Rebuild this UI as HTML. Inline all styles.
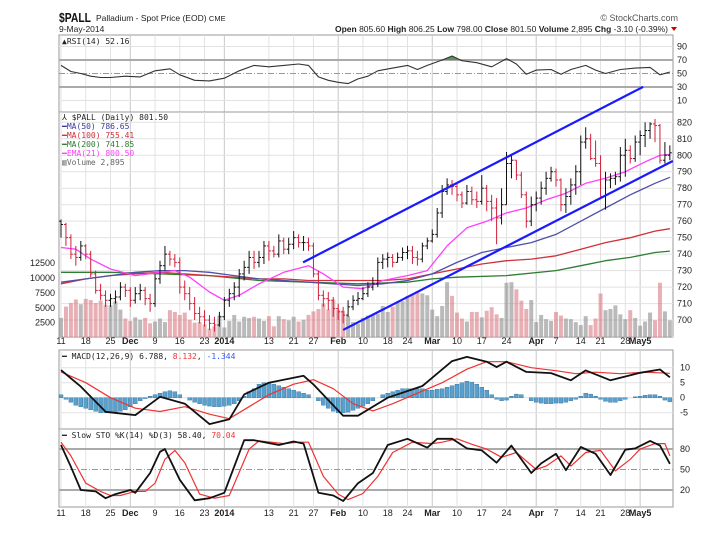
<!DOCTYPE html>
<html><head><meta charset="utf-8">
<style>
html,body{margin:0;padding:0;background:#fff;}
svg{display:block;font-family:"Liberation Sans",sans-serif;}
.ax{font-size:9px;fill:#222;}
.lg{font-family:"DejaVu Sans Mono","Liberation Mono",monospace;font-size:8px;}
</style></head>
<body>
<svg id="c" width="703" height="536" viewBox="0 0 703 536" xmlns="http://www.w3.org/2000/svg">
<rect x="0" y="0" width="703" height="536" fill="#fff"/>
<text x="59" y="22" font-size="13" font-weight="bold" fill="#111" textLength="32" lengthAdjust="spacingAndGlyphs">$PALL</text>
<text x="96" y="21" font-size="8.5" fill="#222">Palladium - Spot Price (EOD) <tspan font-size="7.5">CME</tspan></text>
<text x="59" y="32" font-size="8.5" fill="#222">9-May-2014</text>
<text x="678" y="21" font-size="9" fill="#555" text-anchor="end">© StockCharts.com</text>
<text x="668" y="32" font-size="8.5" fill="#222" text-anchor="end"><tspan font-weight="bold">Open</tspan> 805.60 <tspan font-weight="bold">High</tspan> 806.25 <tspan font-weight="bold">Low</tspan> 798.00 <tspan font-weight="bold">Close</tspan> 801.50 <tspan font-weight="bold">Volume</tspan> 2,895 <tspan font-weight="bold">Chg</tspan> -3.10 (-0.39%)</text>
<polygon points="671,27 677,27 674,31" fill="#c00"/>
<g id="g"></g>
</svg>
<script>
// ---- data ----
const closes=[758,750,740,738,745,740,728,718,715,712,713,714,720,718,712,716,718,713,710,725,733,740,737,735,720,716,710,704,702,700,698,697,702,712,716,720,728,732,738,735,738,745,742,740,748,743,746,750,747,747,745,728,715,713,712,707,705,703,708,712,713,716,720,722,735,737,738,735,738,741,742,738,737,745,748,752,765,778,782,781,776,771,778,773,772,780,772,768,762,770,795,797,788,776,760,770,774,780,786,790,785,770,775,782,790,808,810,798,795,775,785,786,787,800,803,798,808,812,815,819,818,797,800,801.5];
const highs=[761,759,752,745,748,746,742,730,722,718,716,718,723,722,720,720,722,720,716,728,736,745,742,740,738,724,720,714,708,706,703,702,705,714,719,723,731,736,742,742,742,748,748,745,752,750,750,754,752,751,750,747,730,718,717,714,710,708,712,715,717,720,723,726,738,740,741,740,741,744,745,745,742,747,750,755,768,782,786,785,783,778,782,781,778,788,782,776,774,780,802,800,797,790,778,775,778,784,790,793,792,786,780,786,794,812,817,813,809,800,790,789,790,805,810,806,812,815,820,820,822,819,808,806];
const lows=[750,745,737,733,736,737,726,716,712,708,708,710,712,714,708,710,712,709,705,708,722,730,733,732,716,712,706,700,698,696,694,693,696,700,708,712,714,724,728,731,732,734,736,738,738,740,740,743,744,742,742,726,712,708,706,702,700,698,702,706,709,712,714,718,720,731,732,732,735,736,737,734,733,735,743,747,750,762,776,776,772,768,770,770,768,770,766,760,746,758,770,786,785,774,756,757,766,770,776,784,781,766,765,770,776,782,804,797,793,775,767,780,782,784,787,795,796,800,805,810,808,795,795,797];
const volumes=[3300,5200,5800,6400,5600,6500,6300,5800,6200,5500,5400,6100,4700,3200,2800,3400,3000,3300,2400,2700,3200,2600,4600,4300,3800,4200,3000,2500,2600,2200,1500,1900,3700,1700,2800,3800,2700,3500,3300,3500,3200,2800,3600,1900,3600,3100,2900,3500,2700,3000,3800,4400,4800,5700,4700,6400,4700,4500,3600,2600,2300,3300,3700,3800,4000,5300,4300,5200,5900,6100,7000,7300,7600,7400,7100,4700,3600,5300,9300,7000,4200,3200,2700,4300,4300,3400,4500,5100,3900,3300,9200,9300,8100,6200,4800,6300,2600,3800,3100,2800,4300,3700,3200,3100,2600,2100,3600,2100,3200,7400,4600,4800,5400,3900,3100,4600,3300,2000,2700,4200,2900,9200,4400,2895];
const ma50Idx=[0,5,10,15,20,25,30,35,40,45,50,55,60,65,70,75,80,85,90,95,100,105,110,115,120,123];
const ma50Val=[723,725,727,729,730,730,729,727,725,724,723,722,721,722,724,728,735,741,744,747,752,760,768,776,783,786.65];
const ma100Idx=[0,5,10,15,20,25,30,35,40,45,50,55,60,65,70,75,80,85,90,95,100,105,110,115,120,123];
const ma100Val=[722,725,727,728,729,728,727,726,725,725,724,724,724,724,725,728,731,734,736,737,739,743,747,750,754,755.41];
const ma200Idx=[0,10,20,30,40,50,60,70,75,80,90,100,105,110,115,120,123];
const ma200Val=[729,729,728,727,724,723,722,723,725,726,727,730,733,736,738,741,741.85];
const emaIdx=[0,3,6,10,15,20,23,26,30,33,36,40,45,50,53,57,61,65,70,74,78,82,86,90,94,98,102,106,110,114,118,121,123];
const emaVal=[744,743,737,731,727,729,730,726,717,712,715,722,729,733,728,720,719,724,727,730,745,756,760,765,768,773,777,783,786,790,796,800,800.5];
const rsiIdx=[0,2,4,6,8,10,13,16,19,22,24,27,30,33,36,39,42,45,48,50,52,54,56,58,60,62,64,67,70,72,74,77,79,81,84,87,90,92,94,96,99,101,103,106,108,110,113,116,119,121,123];
const rsiVal=[62,53,50,46,44,44,46,45,54,57,48,40,39,43,54,62,60,62,64,62,45,40,37,35,42,46,54,58,62,56,62,70,76,69,66,60,72,64,49,55,56,49,56,62,55,50,56,58,59,48,52.16];
const macdIdx=[0,4,9,15,20,25,30,34,37,42,49,51,57,60,66,73,79,82,86,88,90,94,99,103,106,111,117,121,123];
const macdVal=[9.2,3.7,-4.7,-5.8,0.3,-2,-8.8,-7.2,1.1,5,7.3,4.4,-6,-6,0,3.9,12.2,13.6,12,10.2,12,8.6,8.2,5.8,9.1,5.8,8.3,9.4,6.79];
const sigIdx=[0,5,10,15,20,25,30,34,38,42,47,51,55,59,63,67,72,77,82,86,90,95,100,104,108,113,118,123];
const sigVal=[8.6,5,0,-3.5,-4.6,-3,-5.5,-7,-3,1,4.5,6,3,-2,-4.4,-2,1.5,5,9.5,12,12,10,9,8,8.5,8,8.5,8.13];
const histVal=[1,-0.5,-1.5,-2.5,-3,-3.5,-4,-4.5,-5,-5,-5,-4.8,-4.5,-4,-3,-2,-1,-0.3,0.5,1,1.5,2,2.3,2,1,0,-0.8,-1.5,-2,-2.5,-2.8,-3,-3,-2.8,-2.5,-2,-1,0.5,2,3,4.5,5,5,4.5,4,3.5,3,2.5,2,1.5,1,0,-1,-2.5,-3.5,-4.5,-5,-5,-4.8,-4.2,-3.5,-2.8,-2,-1,0,1,1.5,2,2.5,3,3,3,3,3,2.5,2.5,2.8,3,3.5,4,4.5,5,5.5,5.2,4.5,3.5,2.5,1,-0.5,-1,-0.8,0.5,1.2,1,0,-1,-1.5,-1.8,-2,-2,-1.8,-1.8,-1.5,-1,-0.5,0.5,1.5,1.2,0.5,-0.5,-1.2,-1.5,-1.5,-1,-0.5,0,0.3,0.5,0.8,1,1,0.5,-0.8,-1.34];
const kIdx=[0,2,4,7,9,11,14,15,18,20,21,24,27,30,33,37,39,44,47,49,52,55,57,60,63,66,70,74,76,79,82,85,88,91,95,97,100,102,105,108,111,114,116,119,121,123];
const kVal=[86,54,20,18,8,14,20,16,45,76,80,35,5,8,16,93,93,86,91,88,16,12,4,30,45,86,95,82,95,95,81,78,60,85,45,59,73,49,83,73,42,79,81,92,85,58.4];
const dIdx=[0,2,5,8,10,12,15,17,19,21,23,25,28,31,34,38,40,45,48,50,53,56,58,61,64,67,71,75,77,80,83,86,89,92,96,98,101,103,106,109,112,115,117,120,122,123];
const dVal=[90,70,30,18,12,12,18,18,30,65,78,60,14,8,12,80,92,88,90,90,40,14,6,15,40,75,90,88,90,95,87,80,68,75,50,55,70,55,75,78,48,65,80,88,88,70.04];
const tickIdx=[0,5,10,14,19,24,29,33,42,47,51,56,61,66,70,75,80,85,90,96,100,105,109,114,117];
const tickLbl=["11","18","25","Dec","9","16","23","2014","13","21","27","Feb","10","18","24","Mar","10","17","24","Apr","7","14","21","28","May5"];
const priceTicks=[700,710,720,730,740,750,760,770,780,790,800,810,820];
const volTicks=[2500,5000,7500,10000,12500];
const upperChannel=[[48.9,735],[117.6,841.5]];
const lowerChannel=[[57,694],[123.6,796.5]];

// ---- layout ----
const L=59,R=673;
const g=document.getElementById('g');
const NS='http://www.w3.org/2000/svg';
function el(t,a,p){const e=document.createElementNS(NS,t);for(const k in a)e.setAttribute(k,a[k]);(p||g).appendChild(e);return e;}
const X=i=>61+i*4.95;
const PY=p=>122.3+(820-p)*1.648;
const VY=v=>337.6-v*14.9/2500;
const RY=v=>60+(70-v)*0.675;
const MY=v=>397.7-v*3;
const SY=v=>503.7-v*0.683;
const isMonth=l=>/[A-Za-z]|2014/.test(l);

const panels=[['rsi-panel',35,112],['price-panel',112,337],['macd-panel',350,429],['sto-panel',429,507]];
panels.forEach(p=>{
  const r=el('rect',{x:L,y:p[1],width:R-L,height:p[2]-p[1],fill:'#fff',stroke:'#999','stroke-width':1});
  
  
  tickIdx.forEach((ix,k)=>{
    const ln=el('line',{x1:X(ix),x2:X(ix),y1:p[1],y2:p[2],stroke:isMonth(tickLbl[k])?'#c8c8c8':'#e2e2e2','stroke-width':1});
    
    
  });
});
for(let p=690;p<=820;p+=10){const ln=el('line',{x1:L,x2:R,y1:PY(p),y2:PY(p),stroke:'#e2e2e2'});}
priceTicks.forEach(p=>{const t=el('text',{x:677,y:PY(p)+3,class:'ax'});t.textContent=p;});
volTicks.forEach(v=>{const t=el('text',{x:55,y:VY(v)+3,class:'ax','text-anchor':'end'});t.textContent=v;});
[90,70,50,30,10].forEach(v=>{
  const style=v==70||v==30?{stroke:'#aaa','stroke-width':2}:v==50?{stroke:'#999','stroke-dasharray':'6,2,1,2'}:{stroke:'#e2e2e2'};
  const ln=el('line',Object.assign({x1:L,x2:R,y1:RY(v),y2:RY(v)},style));
  
  const t=el('text',{x:677,y:RY(v)+3,class:'ax'});t.textContent=v;
  
});
[10,5,0,-5].forEach(v=>{
  const ln=el('line',{x1:L,x2:R,y1:MY(v),y2:MY(v),stroke:'#e2e2e2'});
  
  const t=el('text',{x:680,y:MY(v)+3,class:'ax'});t.textContent=v;
  
});
[80,50,20].forEach(v=>{
  const style=v==50?{stroke:'#999','stroke-dasharray':'6,2,1,2'}:{stroke:'#aaa','stroke-width':2};
  const ln=el('line',Object.assign({x1:L,x2:R,y1:SY(v),y2:SY(v)},style));
  
  const t=el('text',{x:680,y:SY(v)+3,class:'ax'});t.textContent=v;
  
});
[344,516].forEach(y=>{
  tickIdx.forEach((ix,k)=>{
    const t=el('text',{x:X(ix),y:y,class:'ax','text-anchor':'middle','font-weight':isMonth(tickLbl[k])?'bold':'normal'});
    t.textContent=tickLbl[k];
    
    
  });
});

const upDn=i=>i>0&&closes[i]<closes[i-1];
volumes.forEach((v,i)=>{
  const r=el('rect',{x:X(i)-2,y:VY(v),width:4,height:VY(0)-VY(v),fill:upDn(i)?'rgba(214,110,120,0.55)':'rgba(140,140,140,0.6)'});
  
  
});
function poly(idx,val,fy,color,w,name){
  const pts=idx.map((ix,k)=>X(ix).toFixed(1)+','+fy(val[k]).toFixed(1)).join(' ');
  const p=el('polyline',{points:pts,fill:'none',stroke:color,'stroke-width':w,'stroke-linejoin':'round'});
  
  
  return p;
}
poly(ma200Idx,ma200Val,PY,'#2e7d32',1.3,'ma200-line');
poly(ma100Idx,ma100Val,PY,'#d0303a',1.3,'ma100-line');
poly(ma50Idx,ma50Val,PY,'#5050a8',1.3,'ma50-line');
poly(emaIdx,emaVal,PY,'#ff40ff',1.3,'ema21-line');
closes.forEach((c,i)=>{
  const col=upDn(i)?'#d0203a':'#111';
  const o=i>0?closes[i-1]:c+2;
  const gg=el('g',{stroke:col,'stroke-width':1});
  
  
  el('line',{x1:X(i),x2:X(i),y1:PY(highs[i]),y2:PY(lows[i])},gg);
  el('line',{x1:X(i)-2,x2:X(i),y1:PY(o),y2:PY(o)},gg);
  el('line',{x1:X(i),x2:X(i)+2,y1:PY(c),y2:PY(c)},gg);
});
[[upperChannel,'upper-channel-line'],[lowerChannel,'lower-channel-line']].forEach(([c,n])=>{
  const ln=el('line',{x1:X(c[0][0]),y1:PY(c[0][1]),x2:X(c[1][0]),y2:PY(c[1][1]),stroke:'#1a1aff','stroke-width':2.2});
  
  
});
const rsiPts=rsiIdx.map((ix,k)=>X(ix).toFixed(1)+','+RY(rsiVal[k]).toFixed(1));
const clip=el('clipPath',{id:'ob'});el('rect',{x:L,y:35,width:R-L,height:RY(70)-35},clip);
const ob=el('polygon',{points:X(rsiIdx[0])+','+RY(70)+' '+rsiPts.join(' ')+' '+X(rsiIdx[rsiIdx.length-1])+','+RY(70),fill:'#5c8f5c','clip-path':'url(#ob)'});


poly(rsiIdx,rsiVal,RY,'#333',1.1,'rsi-line');
histVal.forEach((v,i)=>{
  const r=el('rect',{x:X(i)-2,y:Math.min(MY(v),MY(0)),width:4,height:Math.abs(MY(v)-MY(0)),fill:'#5aa0cc',stroke:'#2f6f9a','stroke-width':0.4});
  
  
});
poly(sigIdx,sigVal,MY,'#ee3333',1.2,'macd-signal-line');
poly(macdIdx,macdVal,MY,'#111',1.8,'macd-line');
poly(dIdx,dVal,SY,'#ee3333',1.2,'sto-d-line');
poly(kIdx,kVal,SY,'#111',1.8,'sto-k-line');

function lg(x,y,parts,name){
  const t=el('text',{x:x,y:y,class:'lg'});
  
  
  parts.forEach(([s,c])=>{const sp=el('tspan',{fill:c},t);sp.textContent=s;});
}
lg(62,120,[['⅄ $PALL (Daily) 801.50','#222']],'price-legend-title');
lg(62,129,[['━MA(50) 786.65','#3a3aa0']],'legend-ma50');
lg(62,138,[['━MA(100) 755.41','#d0303a']],'legend-ma100');
lg(62,147,[['━MA(200) 741.85','#2e7d32']],'legend-ma200');
lg(62,156,[['━EMA(21) 800.50','#ff40ff']],'legend-ema21');
lg(62,165,[['▥Volume 2,895','#666']],'legend-volume');
lg(62,44,[['▲RSI(14) 52.16','#222']],'rsi-legend');
lg(62,359,[['━ MACD(12,26,9) 6.788, ','#222'],['8.132','#ee3333'],[', ','#222'],['-1.344','#3355ff']],'macd-legend');
lg(62,438,[['━ Slow STO %K(14) %D(3) 58.40, ','#222'],['70.04','#ee3333']],'sto-legend');
</script>
</body></html>
